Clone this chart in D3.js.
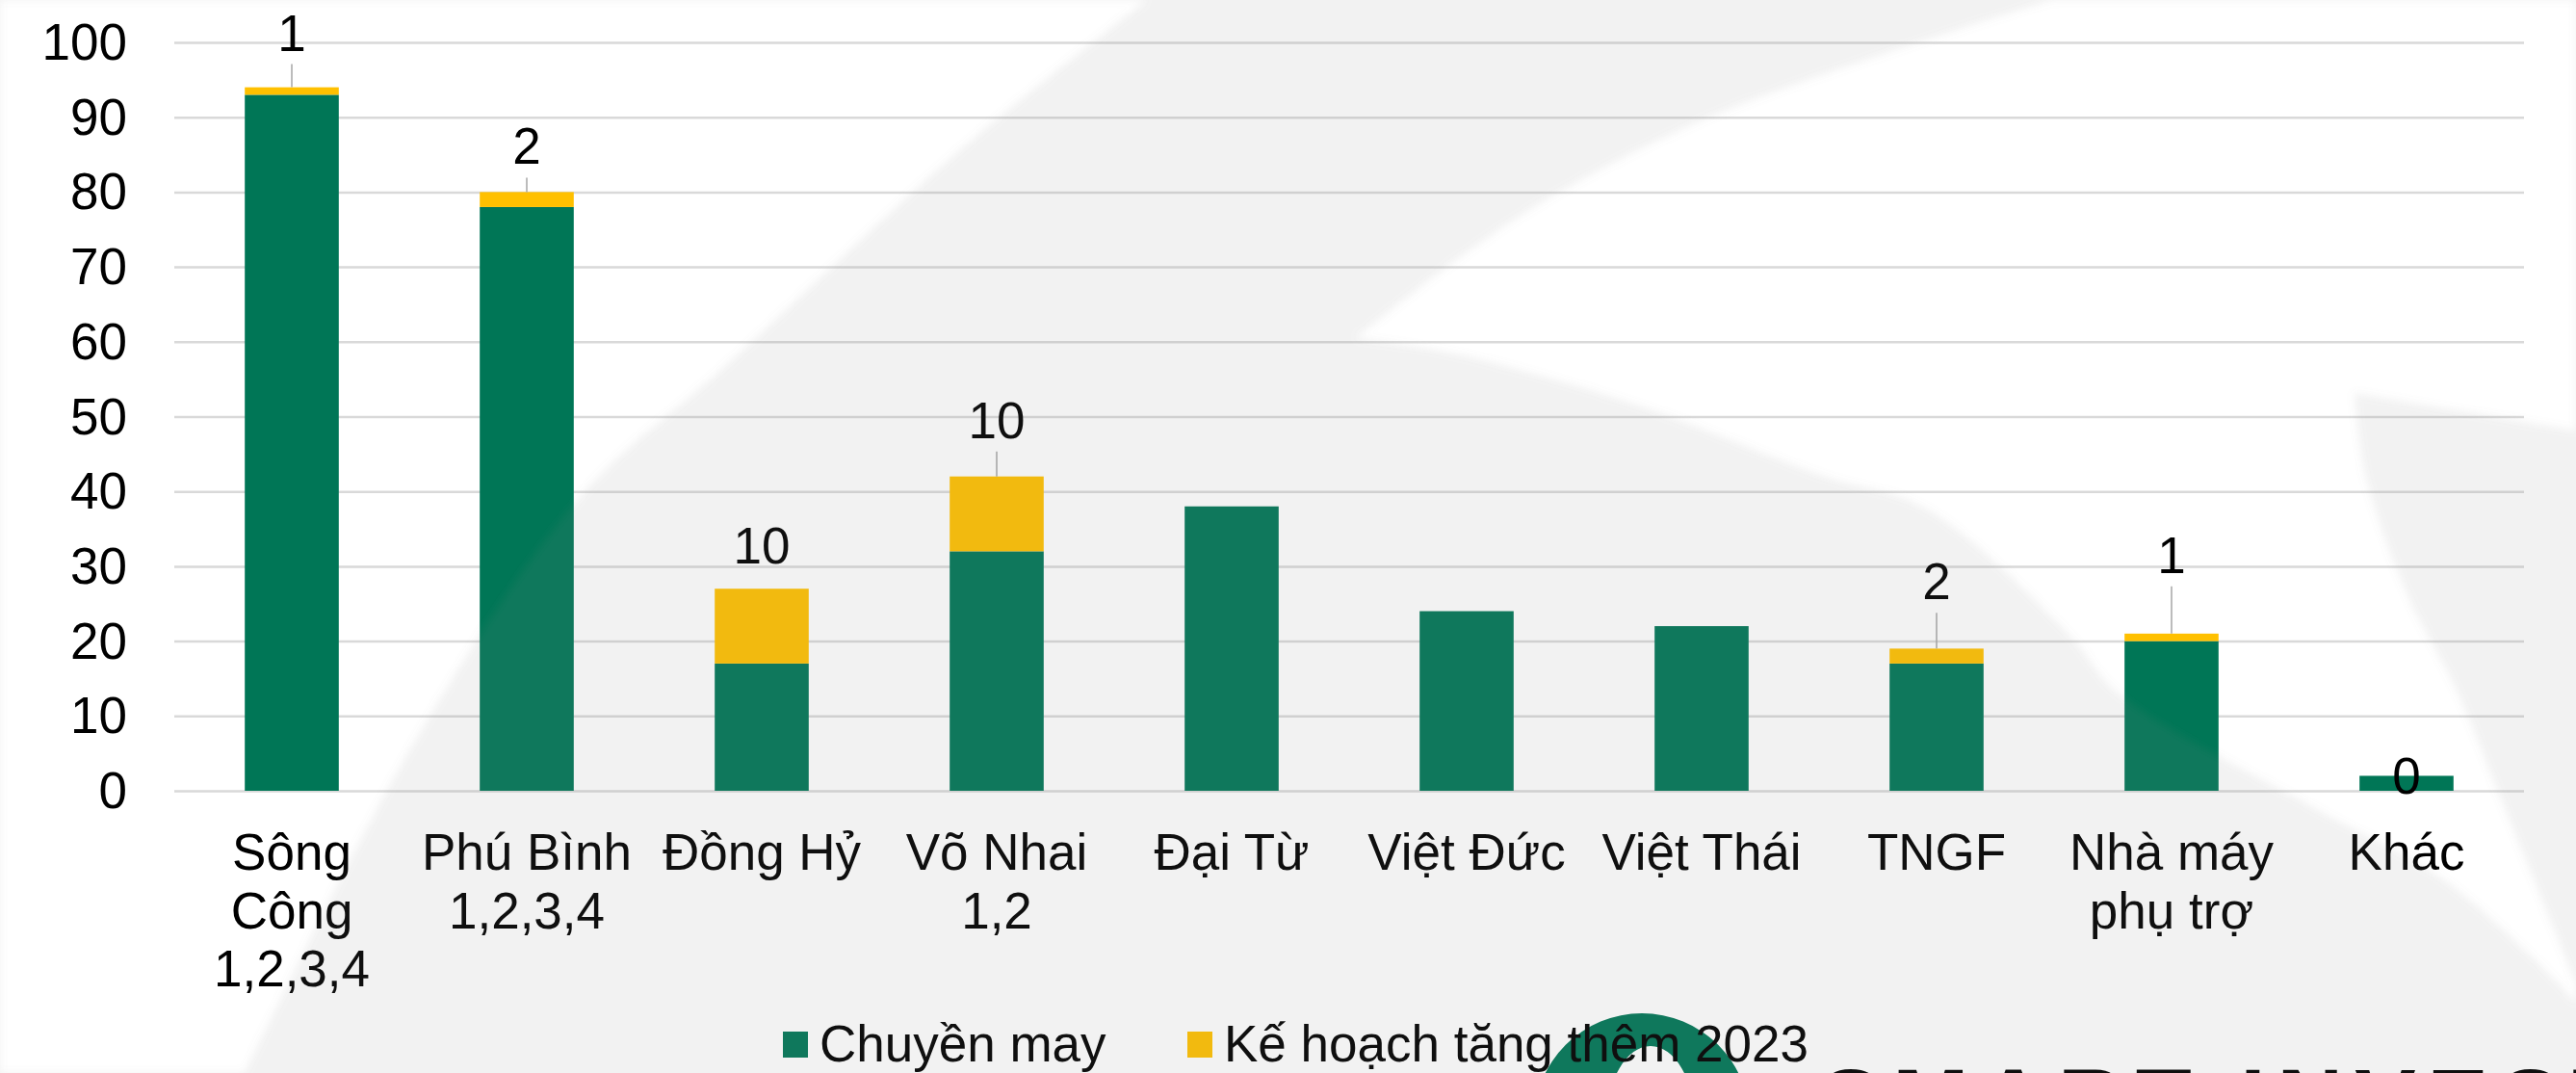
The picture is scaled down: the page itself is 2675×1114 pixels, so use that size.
<!DOCTYPE html>
<html>
<head>
<meta charset="utf-8">
<script src="https://cdn.jsdelivr.net/npm/d3@7"></script>
<style>
  html, body { margin: 0; padding: 0; background: #ffffff; }
  svg { display: block; }
  text { font-family: "Liberation Sans", Arial, sans-serif; fill: #000; }
</style>
</head>
<body>
<div id="chart"></div>
<script>
// chart data
var categories = ["Sông Công 1,2,3,4", "Phú Bình 1,2,3,4", "Đồng Hỷ", "Võ Nhai 1,2", "Đại Từ",
  "Việt Đức", "Việt Thái", "TNGF", "Nhà máy phụ trợ", "Khác"];
var categoryLines = [["Sông", "Công", "1,2,3,4"], ["Phú Bình", "1,2,3,4"], ["Đồng Hỷ"], ["Võ Nhai", "1,2"],
  ["Đại Từ"], ["Việt Đức"], ["Việt Thái"], ["TNGF"], ["Nhà máy", "phụ trợ"], ["Khác"]];
var chuyenMay = [93, 78, 17, 32, 38, 24, 22, 17, 20, 2];
var keHoach2023 = [1, 2, 10, 10, null, null, null, 2, 1, 0];
var seriesNames = ["Chuyền may", "Kế hoạch tăng thêm 2023"];
var yTicks = [0, 10, 20, 30, 40, 50, 60, 70, 80, 90, 100];

// layout
var svgWidth = 2675;
var svgHeight = 1114;
var margin = { top: 44, right: 54, bottom: 293, left: 181 };
var width = svgWidth - margin.left - margin.right;
var height = svgHeight - margin.top - margin.bottom;
var colors = ["#007656", "#ffc000"];
var fontSize = 53;
// how far (px) each moved data label sits above its bar top
var labelLift = [38, 29, 26, 40, 0, 0, 0, 51, 63, -19];

var svg = d3.select("#chart").append("svg")
  .attr("width", svgWidth)
  .attr("height", svgHeight);

svg.append("rect")
  .attr("width", svgWidth)
  .attr("height", svgHeight)
  .attr("fill", "#ffffff");

var chartGroup = svg.append("g")
  .attr("transform", `translate(${margin.left}, ${margin.top})`);

var xScale = d3.scaleBand()
  .domain(categories)
  .range([0, width])
  .paddingInner(0.6)
  .paddingOuter(0.3);

var yScale = d3.scaleLinear()
  .domain([0, 100])
  .range([height, 0]);

// y axis with gridlines
var leftAxis = d3.axisLeft(yScale)
  .tickValues(yTicks)
  .tickSize(-width)
  .tickPadding(49);

var yAxis = chartGroup.append("g")
  .call(leftAxis);
yAxis.select(".domain").remove();
yAxis.selectAll(".tick line")
  .attr("stroke", "#d9d9d9")
  .attr("stroke-width", 2.5);
yAxis.selectAll(".tick text")
  .attr("font-size", fontSize)
  .attr("font-family", "Liberation Sans, Arial, sans-serif")
  .attr("fill", "#000")
  .attr("dy", "0.33em");

// stacked bars
var rows = categories.map((c, i) => ({ cat: c, a: chuyenMay[i], b: keHoach2023[i] || 0 }));
var stacked = d3.stack().keys(["a", "b"])(rows);

chartGroup.selectAll(".series")
  .data(stacked)
  .enter()
  .append("g")
  .attr("fill", (d, i) => colors[i])
  .selectAll("rect")
  .data(d => d)
  .enter()
  .append("rect")
  .attr("x", d => xScale(d.data.cat))
  .attr("width", xScale.bandwidth())
  .attr("y", d => yScale(d[1]))
  .attr("height", d => yScale(d[0]) - yScale(d[1]));

// data labels for the 2023 plan
categories.forEach(function(c, i) {
  if (keHoach2023[i] === null) return;
  var cx = xScale(c) + xScale.bandwidth() / 2;
  var top = yScale(chuyenMay[i] + keHoach2023[i]);
  var baseY = top - labelLift[i];
  if (labelLift[i] > 28) {
    chartGroup.append("line")
      .attr("x1", cx).attr("x2", cx)
      .attr("y1", baseY + 14).attr("y2", top)
      .attr("stroke", "#a6a6a6")
      .attr("stroke-width", 1.5);
  }
  chartGroup.append("text")
    .attr("x", cx)
    .attr("y", baseY)
    .attr("text-anchor", "middle")
    .attr("font-size", fontSize)
    .text(keHoach2023[i]);
});

// category labels
var xLabels = chartGroup.selectAll(".xlabel")
  .data(categories)
  .enter()
  .append("text")
  .attr("class", "xlabel")
  .attr("text-anchor", "middle")
  .attr("font-size", fontSize)
  .attr("transform", d => `translate(${xScale(d) + xScale.bandwidth() / 2}, ${height + 82})`);

xLabels.selectAll("tspan")
  .data((d, i) => categoryLines[i])
  .enter()
  .append("tspan")
  .attr("x", 0)
  .attr("y", (d, j) => j * 60.5)
  .text(d => d);

// watermark logo at the bottom
var logo = svg.append("g");
logo.append("path")
  .attr("fill-rule", "evenodd")
  .attr("fill", "#007656")
  .attr("d", "M1593,1164 a112,112 0 1,0 224,0 a112,112 0 1,0 -224,0 Z " +
             "M1668,1166 a46,80 0 1,0 92,0 a46,80 0 1,0 -92,0 Z");
logo.append("text")
  .attr("x", 1890)
  .attr("y", 1176)
  .attr("font-size", 95)
  .attr("font-weight", "bold")
  .attr("letter-spacing", 12)
  .attr("fill", "#1a1a1a")
  .text("SMART INVEST");

// legend
var legend = svg.append("g");
var legendX = [813, 1233];
seriesNames.forEach(function(name, i) {
  legend.append("rect")
    .attr("x", legendX[i])
    .attr("y", 1071)
    .attr("width", 26)
    .attr("height", 27)
    .attr("fill", colors[i]);
  legend.append("text")
    .attr("x", legendX[i] + 38)
    .attr("y", 1102)
    .attr("font-size", fontSize)
    .text(name);
});

// watermark overlay (grey areas, white swooshes cut out)
var defs = svg.append("defs");
defs.append("filter")
  .attr("id", "soft")
  .attr("x", "-5%").attr("y", "-5%").attr("width", "110%").attr("height", "110%")
  .append("feGaussianBlur")
  .attr("stdDeviation", 4);

var curve = d3.line().curve(d3.curveCatmullRom);
var swooshLeft = [[1191, 0], [1000, 153], [753, 380], [603, 515], [428, 774], [254, 1114]];
var swooshRightTop = [[1408, 351], [1515, 268], [1610, 205], [1765, 126], [1950, 58], [2131, 0]];
var swooshRightEdge = [[2445, 408], [2457, 496], [2500, 618], [2550, 715], [2600, 837], [2675, 1021]];
var swooshRightLow = [[2675, 1041], [2633, 997], [2533, 910], [2400, 837], [2200, 720], [2147, 657],
  [2000, 528], [1893, 494], [1702, 421], [1510, 367], [1408, 351]];

var dLeft = "M0,0 L" + curve(swooshLeft).slice(1) + " L0,1114 Z";
var dRight = curve(swooshRightTop) + " L2675,0 L2675,447 L" + curve(swooshRightEdge).slice(1) +
  " L" + curve(swooshRightLow).slice(1) + " Z";

svg.append("path")
  .attr("fill-rule", "evenodd")
  .attr("fill", "rgb(137,137,137)")
  .attr("fill-opacity", 0.11)
  .attr("filter", "url(#soft)")
  .attr("d", `M-20,-20 L${svgWidth + 20},-20 L${svgWidth + 20},${svgHeight + 20} L-20,${svgHeight + 20} Z ` + dLeft + " " + dRight);
</script>
</body>
</html>
